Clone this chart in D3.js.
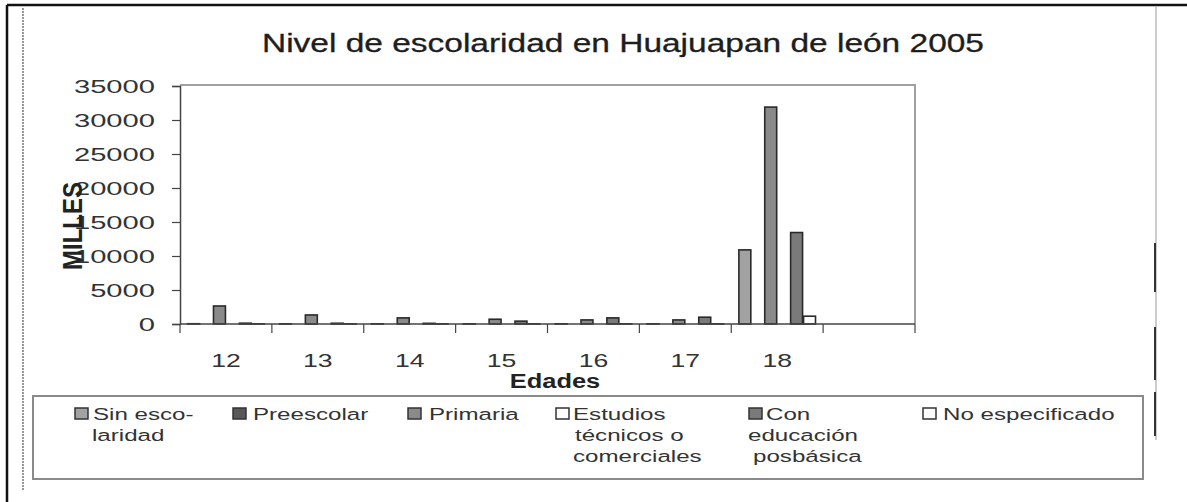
<!DOCTYPE html>
<html><head><meta charset="utf-8">
<script src="https://cdn.jsdelivr.net/npm/d3@7"></script>
<style>
html,body{margin:0;padding:0;background:#fff;}
svg{display:block;font-family:"Liberation Sans",Arial,sans-serif;}
</style></head>
<body>
<svg id="chart" width="1187" height="502"></svg>
<script>
// ---- data ----
const title = "Nivel de escolaridad en Huajuapan de león 2005";
const categories = ["12", "13", "14", "15", "16", "17", "18", ""];
const seriesNames = ["Sin escolaridad", "Preescolar", "Primaria", "Estudios técnicos o comerciales", "Con educación posbásica", "No especificado"];
const sinEscolaridad = [40, 30, 30, 30, 30, 30, 10900, 0];
const preescolar     = [0, 0, 0, 0, 0, 0, 0, 0];
const primaria       = [2650, 1330, 900, 700, 600, 600, 31900, 0];
const estudiosTec    = [0, 0, 0, 0, 0, 0, 0, 0];
const conEducacion   = [120, 110, 100, 420, 900, 1000, 13450, 0];
const noEspecificado = [20, 20, 20, 20, 20, 20, 1150, 0];
const yTicks = [0, 5000, 10000, 15000, 20000, 25000, 30000, 35000];
const legendLines = [["Sin esco-", "laridad"], ["Preescolar"], ["Primaria"], ["Estudios", "técnicos o", "comerciales"], ["Con", "educación", "posbásica"], ["No especificado"]];

const seriesValues = [sinEscolaridad, preescolar, primaria, estudiosTec, conEducacion, noEspecificado];
const fills = ["#a2a2a2", "#585858", "#8a8a8a", "#ffffff", "#7a7a7a", "#ffffff"];

const svg = d3.select("#chart");
const font = '"Liberation Sans",Arial,sans-serif';

// ---- page frame ----
svg.append("line").attr("x1", 7).attr("x2", 1187).attr("y1", 5).attr("y2", 5).attr("stroke", "#111").attr("stroke-width", 2.5);
svg.append("line").attr("x1", 7).attr("x2", 7).attr("y1", 5).attr("y2", 502).attr("stroke", "#111").attr("stroke-width", 2.5);
svg.append("line").attr("x1", 23).attr("x2", 23).attr("y1", 8).attr("y2", 490).attr("stroke", "#777").attr("stroke-width", 1.5).attr("stroke-dasharray", "2,1");
svg.append("line").attr("x1", 1156).attr("x2", 1156).attr("y1", 6).attr("y2", 440).attr("stroke", "#bbb").attr("stroke-width", 1.5);
[[243, 292], [327, 380], [392, 436]].forEach(s =>
  svg.append("line").attr("x1", 1155).attr("x2", 1155).attr("y1", s[0]).attr("y2", s[1]).attr("stroke", "#333").attr("stroke-width", 2));

// ---- title ----
svg.append("text").attr("x", 623).attr("y", 52).attr("text-anchor", "middle")
  .attr("font-size", 25).attr("fill", "#1e1e1e").attr("stroke", "#1e1e1e").attr("stroke-width", 0.3)
  .attr("textLength", 722).attr("lengthAdjust", "spacingAndGlyphs").text(title);

// ---- scales ----
const plot = {left: 180, right: 915, top: 86, bottom: 324};
const x = d3.scaleBand().domain(categories.map((c, i) => i)).range([plot.left, plot.right]).padding(0);
const xs = d3.scaleBand().domain(d3.range(seriesNames.length)).range([0, x.bandwidth()]).paddingInner(0).paddingOuter(0.55);
const y = d3.scaleLinear().domain([0, 35000]).range([plot.bottom, plot.top]);

// plot frame (top & right)
svg.append("path").attr("d", `M${plot.left},${plot.top - 1}H${plot.right}V${plot.bottom}`)
  .attr("fill", "none").attr("stroke", "#a0a0a0").attr("stroke-width", 2);

// ---- bars ----
const groups = svg.append("g").selectAll("g").data(categories).join("g")
  .attr("transform", (d, i) => `translate(${x(i)},0)`);
groups.selectAll("rect").data((d, i) => seriesValues.map((s, k) => ({k, v: s[i]})).filter(e => e.v > 0))
  .join("rect")
  .attr("x", e => xs(e.k) + 0.5).attr("width", xs.bandwidth() - 1)
  .attr("y", e => y(e.v)).attr("height", e => plot.bottom - y(e.v))
  .attr("fill", e => fills[e.k]).attr("stroke", "#2a2a2a").attr("stroke-width", 1.6);

// ---- y axis ----
const yAxis = svg.append("g").attr("transform", `translate(${plot.left},0)`)
  .call(d3.axisLeft(y).tickValues(yTicks).tickFormat(d3.format("d")).tickSize(8).tickSizeOuter(8));
yAxis.select(".domain").attr("stroke", "#444").attr("stroke-width", 1.5);
yAxis.selectAll(".tick line").attr("stroke", "#444").attr("stroke-width", 1.2);
yAxis.selectAll(".tick text").attr("font-family", font).attr("font-size", 18).attr("fill", "#333")
  .attr("x", -25 / 1.62).attr("dy", "0.36em").attr("transform", "scale(1.62,1)");

// ---- x axis ----
svg.append("line").attr("x1", plot.left).attr("x2", plot.right).attr("y1", plot.bottom).attr("y2", plot.bottom)
  .attr("stroke", "#444").attr("stroke-width", 1.5);
const bounds = categories.map((c, i) => x(i)).concat([plot.right]);
svg.append("g").selectAll("line").data(bounds).join("line")
  .attr("x1", d => d).attr("x2", d => d).attr("y1", plot.bottom).attr("y2", plot.bottom + 9)
  .attr("stroke", "#444").attr("stroke-width", 1.2);
svg.append("g").selectAll("text").data(categories).join("text")
  .attr("transform", (d, i) => `translate(${x(i) + x.bandwidth() / 2},367) scale(1.4,1)`)
  .attr("text-anchor", "middle").attr("font-size", 19).attr("fill", "#333").text(d => d);

// axis titles
svg.append("text").attr("transform", "translate(555,388) scale(1.27,1)").attr("text-anchor", "middle")
  .attr("font-size", 20).attr("font-weight", "bold").attr("fill", "#222").text("Edades");
svg.append("text").attr("transform", "translate(82,226) scale(1.15,1) rotate(-90)").attr("text-anchor", "middle")
  .attr("font-size", 24).attr("font-weight", "bold").attr("fill", "#222").text("MILLES");

// ---- legend ----
svg.append("rect").attr("x", 33).attr("y", 396).attr("width", 1110).attr("height", 83)
  .attr("fill", "#fff").attr("stroke", "#8a8a8a").attr("stroke-width", 2);
const legendSwatchX = [75, 233, 408, 556, 749, 923];
const legendTextX = [[93, 92], [253], [429], [573, 575, 573], [766, 748, 753], [943]];
const baselines = [420, 441, 462];
const items = svg.append("g").selectAll("g").data(seriesNames).join("g");
items.append("rect").attr("x", (d, i) => legendSwatchX[i]).attr("y", 408).attr("width", 13).attr("height", 11)
  .attr("fill", (d, i) => fills[i]).attr("stroke", "#333").attr("stroke-width", 1.5);
items.each(function(d, i) {
  d3.select(this).selectAll("text").data(legendLines[i]).join("text")
    .attr("transform", (t, j) => `translate(${legendTextX[i][j]},${baselines[j]}) scale(1.42,1)`)
    .attr("font-size", 17).attr("fill", "#333").text(t => t);
});
</script>
</body></html>
